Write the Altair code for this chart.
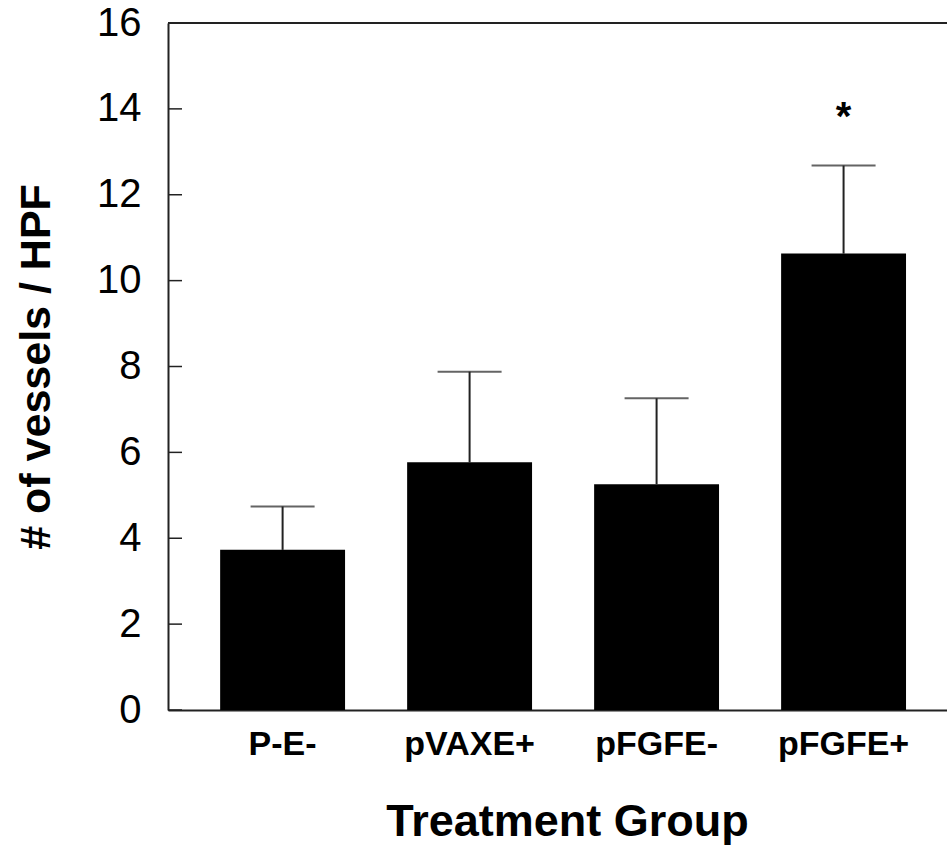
import altair as alt
import pandas as pd

# ---- data ----
groups = ["P-E-", "pVAXE+", "pFGFE-", "pFGFE+"]
means = [3.73, 5.77, 5.26, 10.63]
upper = [4.74, 7.88, 7.26, 12.68]
y_ticks = [0, 2, 4, 6, 8, 10, 12, 14, 16]
star_groups = ["pFGFE+"]
star_y = [13.5]
star_text = ["*"]

df = pd.DataFrame({"group": groups, "mean": means, "upper": upper})
ticks_df = pd.DataFrame({"v": y_ticks})
top_df = pd.DataFrame({"v": [max(y_ticks)]})
star_df = pd.DataFrame({"group": star_groups, "y": star_y, "t": star_text})

FONT = "Liberation Sans"
W, H = 779, 687
LINE = "#222222"
YTITLE = "# of vessels / HPF"

xscale = alt.Scale(domain=groups, paddingInner=0.332, paddingOuter=0.249, align=0.56)
yscale = alt.Scale(domain=[0, 16], nice=False, zero=True)

x_enc = alt.X(
    "group:N", scale=xscale, sort=groups,
    axis=alt.Axis(
        title="Treatment Group", labelAngle=0, labelAlign="center", ticks=False, grid=False,
        labelFont=FONT, labelFontSize=34, labelFontWeight="bold", labelColor="black",
        labelPadding=34,
        titleFont=FONT, titleFontSize=45, titleFontWeight="bold", titleColor="black",
        titlePadding=38, titleX=399,
        domainColor=LINE, domainWidth=2,
    ),
)

y_axis = alt.Axis(
    title=YTITLE, values=y_ticks, ticks=False, grid=False,
    labelFont=FONT, labelFontSize=40, labelColor="black", labelPadding=27,
    titleFont=FONT, titleFontSize=43, titleFontWeight="bold", titleColor="black",
    titlePadding=38,
    domainColor=LINE, domainWidth=2,
)

bars = alt.Chart(df).mark_bar(color="black").encode(
    x=x_enc,
    y=alt.Y("mean:Q", scale=yscale, axis=y_axis, title=YTITLE),
)

err = alt.Chart(df).mark_rule(color=LINE, strokeWidth=2).encode(
    x=alt.X("group:N", scale=xscale, sort=groups),
    y=alt.Y("mean:Q", scale=yscale, title=YTITLE),
    y2="upper:Q",
)

caps = alt.Chart(df).mark_tick(color=LINE, thickness=2, size=64, orient="horizontal").encode(
    x=alt.X("group:N", scale=xscale, sort=groups),
    y=alt.Y("upper:Q", scale=yscale, title=YTITLE),
)

inticks = alt.Chart(ticks_df).mark_rule(color=LINE, strokeWidth=1.5).encode(
    y=alt.Y("v:Q", scale=yscale, title=YTITLE),
    x=alt.value(0),
    x2=alt.value(14),
)

topline = alt.Chart(top_df).mark_rule(color=LINE, strokeWidth=2).encode(
    y=alt.Y("v:Q", scale=yscale, title=YTITLE),
    x=alt.value(0),
    x2=alt.value(W),
)

star = alt.Chart(star_df).mark_text(
    font=FONT, fontSize=40, fontWeight="bold", color="black", baseline="alphabetic"
).encode(
    x=alt.X("group:N", scale=xscale, sort=groups),
    y=alt.Y("y:Q", scale=yscale, title=YTITLE),
    text="t:N",
)

chart = alt.layer(err, bars, caps, inticks, topline, star).properties(
    width=W, height=H,
    autosize="none",
    padding={"left": 168, "top": 23, "right": 0, "bottom": 136},
    background="white",
).configure_view(stroke=None)

chart.save("out.html", embed_options={"renderer": "svg", "actions": False})
